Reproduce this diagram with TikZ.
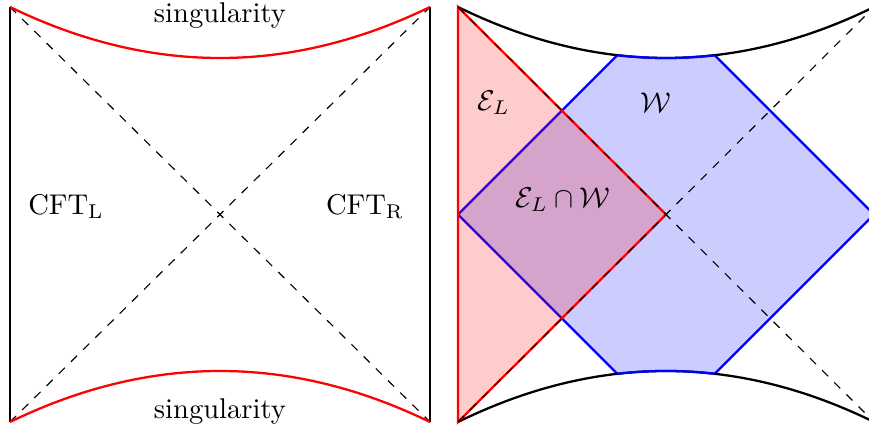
\documentclass[tikz,border=0pt]{standalone}
\begin{document}
\begin{tikzpicture}[x=0.35pt,y=-0.35pt,
  edge/.style={black,thick},
  sing/.style={red,thick},
  diag/.style={black,thin,dashed},
  lbl/.style={inner sep=0pt}]
\clip (0,0) rectangle (869,429);
% ---------- left diagram ----------
\coordinate (LTL) at (10,7);
\coordinate (LTR) at (430,7);
\coordinate (LBL) at (10,422);
\coordinate (LBR) at (430,422);
\draw[diag] (LTL) -- (LBR);
\draw[diag] (LBL) -- (LTR);
\draw[edge] (LTL) -- (LBL);
\draw[edge] (LTR) -- (LBR);
\draw[sing] (LTL) .. controls (150,75) and (290,75) .. (LTR);
\draw[sing] (LBL) .. controls (150,354) and (290,354) .. (LBR);
\node[lbl] (s1) at (220,16) {singularity};
\node[lbl] (s2) at (220,412) {singularity};
\node[lbl] (cl) at (66,207) {$\mathrm{CFT_L}$};
\node[lbl] (cr) at (365,207) {$\mathrm{CFT_R}$};
% ---------- right diagram ----------
\coordinate (RTL) at (458,7);
\coordinate (RTR) at (874,7);
\coordinate (RBL) at (458,422);
\coordinate (RBR) at (874,422);
\coordinate (RC) at (666,214.5);
\coordinate (WL) at (458,214.5);
\coordinate (WR) at (874,214.5);
\coordinate (WT) at (666,6.5);
\coordinate (WB) at (666,422.5);
% W region
\begin{scope}
  \clip (RTL) .. controls (596.67,75) and (735.33,75) .. (RTR) -- (RBR)
        .. controls (735.33,354) and (596.67,354) .. (RBL) -- cycle;
  \fill[blue,fill opacity=0.2] (WL) -- (WT) -- (WR) -- (WB) -- cycle;
  \draw[blue,thick] (WL) -- (WT) -- (WR) -- (WB) -- cycle;
\end{scope}
% E_L region
\fill[red,fill opacity=0.2] (RTL) -- (RC) -- (RBL) -- cycle;
% boundaries
\draw[edge] (RTL) -- (RBL);
\draw[edge] (RTL) .. controls (596.67,75) and (735.33,75) .. (RTR);
\draw[edge] (RBL) .. controls (596.67,354) and (735.33,354) .. (RBR);
\begin{scope}
  \clip (WL) -- (WT) -- (WR) -- (WB) -- cycle;
  \draw[blue,thick] (RTL) .. controls (596.67,75) and (735.33,75) .. (RTR);
  \draw[blue,thick] (RBL) .. controls (596.67,354) and (735.33,354) .. (RBR);
\end{scope}
\draw[red,thick] (RTL) -- (RC) -- (RBL) -- cycle;
\draw[diag] (RTL) -- (RBR);
\draw[diag] (RBL) -- (RTR);
\node[lbl] (el) at (494,103) {$\mathcal{E}_L$};
\node[lbl] (w) at (656,103) {$\mathcal{W}$};
\node[lbl] (ew) at (563,200) {$\mathcal{E}_L\cap\mathcal{W}$};
\end{tikzpicture}
\end{document}
